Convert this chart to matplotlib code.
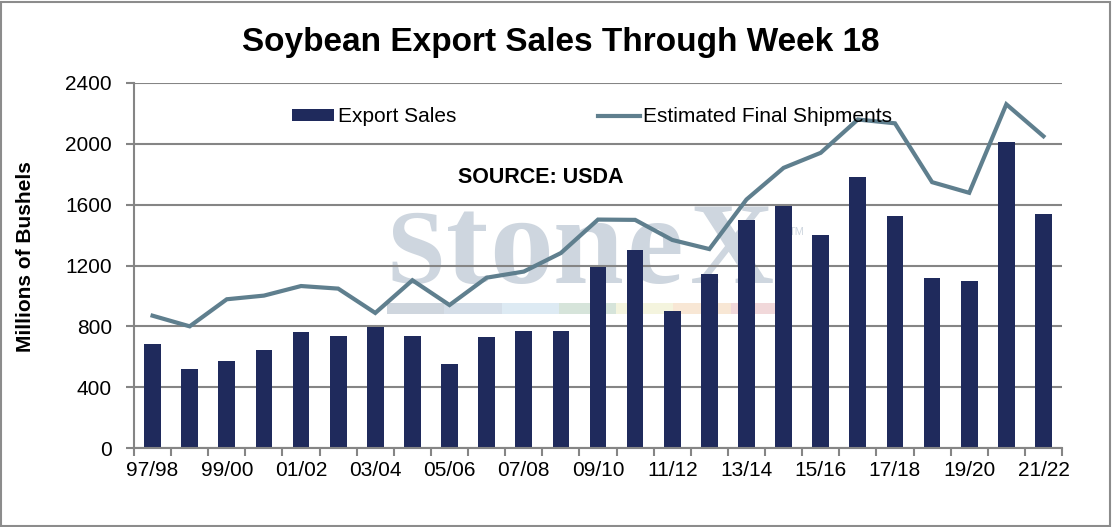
import numpy as np
import matplotlib
matplotlib.use("Agg")
import matplotlib.pyplot as plt
from matplotlib.patches import Rectangle

seasons = ["97/98", "98/99", "99/00", "00/01", "01/02", "02/03", "03/04", "04/05",
           "05/06", "06/07", "07/08", "08/09", "09/10", "10/11", "11/12", "12/13",
           "13/14", "14/15", "15/16", "16/17", "17/18", "18/19", "19/20", "20/21", "21/22"]
export_sales = [684, 519, 574, 646, 763, 738, 797, 738, 554, 732, 771, 771, 1193,
                1302, 901, 1144, 1499, 1591, 1400, 1781, 1525, 1118, 1098, 2011, 1538]
final_shipments = [870, 800, 978, 1002, 1065, 1048, 888, 1103, 940, 1120, 1160, 1282,
                   1502, 1500, 1368, 1308, 1634, 1842, 1941, 2160, 2135, 1748, 1678,
                   2260, 2050]
y_ticks = [0, 400, 800, 1200, 1600, 2000, 2400]

plt.rcParams['font.family'] = ['Liberation Sans', 'DejaVu Sans']

BAR = '#1F2A5C'
LINE = '#5F7F8E'
GRID = '#858585'

fig = plt.figure(figsize=(11.12, 5.27), dpi=100)
ax = fig.add_axes([134 / 1112, 1 - 448 / 527, 928 / 1112, 365 / 527])

x = np.arange(len(seasons))
bars = ax.bar(x, export_sales, width=0.45, color=BAR, label='Export Sales', zorder=2)
line, = ax.plot(x, final_shipments, color=LINE, lw=3, label='Estimated Final Shipments',
                zorder=3, solid_joinstyle='miter')

ax.set_xlim(-0.5, len(seasons) - 0.5)
ax.set_ylim(0, 2400)
ax.set_yticks(y_ticks)
ax.set_xticks(x[::2])
ax.set_xticklabels(seasons[::2])
ax.set_xticks(np.arange(-0.5, len(seasons)), minor=True)
ax.tick_params(axis='x', which='major', length=0, pad=9, labelsize=15)
ax.tick_params(axis='x', which='minor', length=6, width=1.5, color=GRID, direction='out')
ax.tick_params(axis='y', length=6, width=1.5, color=GRID, pad=10, labelsize=15)

ax.set_axisbelow(True)
ax.grid(axis='y', color=GRID, lw=1.5, zorder=0.5)
for s in ['top', 'right']:
    ax.spines[s].set_visible(False)
for s in ['left', 'bottom']:
    ax.spines[s].set_color(GRID)
    ax.spines[s].set_linewidth(1.5)

# StoneX watermark
def fx(px):
    return (px - 134) / 928

def fy(py):
    return (448 - py) / 365

letters = [("S", 416, 76), ("t", 467, 92), ("o", 521, 92), ("n", 588, 92),
           ("e", 655, 92), ("X", 732, 84)]
for ch, px, size in letters:
    ax.text(fx(px), fy(283), ch, transform=ax.transAxes, ha='center', va='baseline',
            fontsize=size, fontweight='bold', family='Liberation Serif',
            color='#CED6DF', zorder=0.1)
ax.text(fx(797), fy(232), "TM", transform=ax.transAxes, ha='center', va='center',
        fontsize=8, color='#CED6DF', zorder=0.1)
strip = [(387, '#CFD6DE'), (444, '#D5DEE8'), (502, '#DDEAF3'), (559, '#D6E4DA'),
         (616, '#F4F4DE'), (673, '#F8E7D5'), (731, '#F1D8DA'), (775, None)]
for (x0, c), (x1, _) in zip(strip[:-1], strip[1:]):
    ax.add_patch(Rectangle((fx(x0), fy(314)), fx(x1) - fx(x0), fy(303) - fy(314),
                           transform=ax.transAxes, color=c, lw=0, zorder=0.1))

ax.text(0.438, 0.742, "SOURCE: USDA", transform=ax.transAxes, ha='center', va='center',
        fontsize=15.5, fontweight='bold')

ax.legend([bars, line], ['Export Sales', 'Estimated Final Shipments'],
          loc='center', bbox_to_anchor=(0.494, 0.907), ncol=2, frameon=False,
          fontsize=15, handlelength=2.0, handleheight=0.55, handletextpad=0.18,
          columnspacing=6.8, borderpad=0)

fig.text(0.504, 1 - 42 / 527, "Soybean Export Sales Through Week 18", ha='center',
         va='center', fontsize=24, fontweight='bold')
fig.text(26 / 1112, 1 - 257 / 527, "Millions of Bushels", rotation=90, ha='center',
         va='center', fontsize=15, fontweight='bold')

fig.patches.append(Rectangle((0.001, 0.002), 0.997, 0.995, transform=fig.transFigure,
                             fill=False, edgecolor='#8C8C8C', lw=1.5))

fig.savefig('out.png', dpi=100)
